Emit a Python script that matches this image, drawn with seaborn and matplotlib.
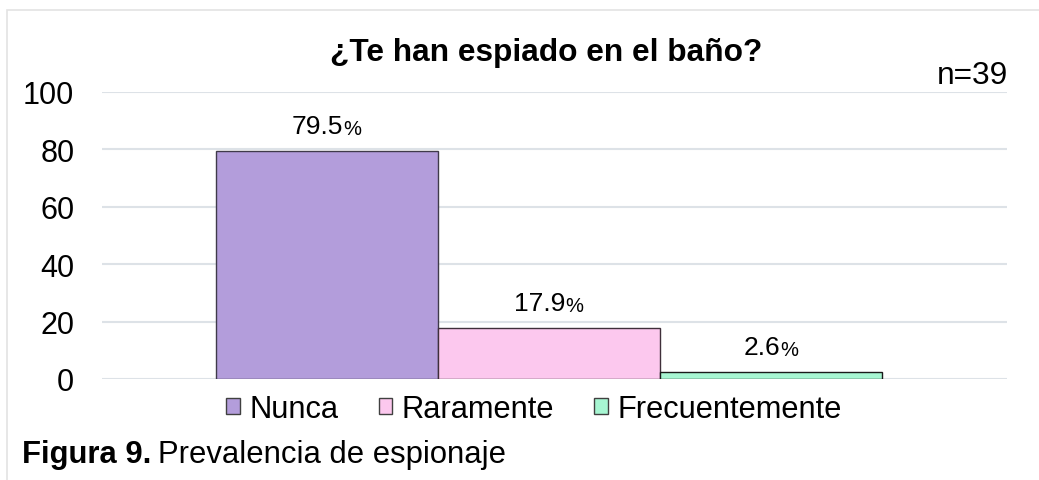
import pandas as pd
import numpy as np
import seaborn as sns
import matplotlib.pyplot as plt
from matplotlib.patches import Rectangle

# data
respuestas = ["Nunca", "Raramente", "Frecuentemente"]
porcentajes = [79.5, 17.9, 2.6]
colores = ["#B39DDB", "#FCC8EE", "#A7F6D2"]
bordes = ["#3F3A4A", "#3F2F3A", "#1A1A1A"]
titulo = "¿Te han espiado en el baño?"
n_texto = "n=39"
yticks = [0, 20, 40, 60, 80, 100]

df = pd.DataFrame({"grupo": ["a"] * 3, "respuesta": respuestas, "valor": porcentajes})

sns.set_theme(style="white")
plt.rcParams["font.family"] = ["Liberation Sans", "DejaVu Sans"]
plt.rcParams["text.color"] = "black"
plt.rcParams["ytick.color"] = "black"

fig = plt.figure(figsize=(10.39, 4.81), dpi=100)
ax = fig.add_axes([0.0982, 0.210, 0.8706, 0.5967])

sns.barplot(data=df, x="grupo", y="valor", hue="respuesta", hue_order=respuestas,
            palette=colores, width=0.737, saturation=1, ax=ax, legend=False)

for p, ec in zip(ax.patches, bordes):
    p.set_edgecolor(ec)
    p.set_linewidth(1.0)

ax.set_xlim(-0.494, 0.506)
ax.set_ylim(0, 100)
ax.set_yticks(yticks)
ax.set_yticklabels([str(t) for t in yticks], fontsize=22, color="black")
ax.tick_params(axis="y", length=0, pad=20)
ax.set_xticks([])
ax.set_xlabel("")
ax.set_ylabel("")
for s in ax.spines.values():
    s.set_visible(False)
ax.yaxis.grid(True, color="#DDE2E7", linewidth=1.5)
ax.set_axisbelow(True)

# value labels: number + smaller percent sign
fig.canvas.draw()
r = fig.canvas.get_renderer()
off = 9
for p, v in zip(ax.patches, porcentajes):
    xc = p.get_x() + p.get_width() / 2
    yt = p.get_height()
    t1 = ax.annotate(f"{v:.1f}", (xc, yt), xytext=(0, off), textcoords="offset points",
                     ha="right", va="bottom", fontsize=19, color="black")
    t2 = ax.annotate("%", (xc, yt), xytext=(0, off), textcoords="offset points",
                     ha="left", va="bottom", fontsize=14.5, color="black")
    w1 = t1.get_window_extent(r).width
    w2 = t2.get_window_extent(r).width
    shift = (w1 - w2) / 2 * 72 / fig.dpi
    t1.set_position((shift, off))
    t2.set_position((shift, off))

# legend
handles = [Rectangle((0, 0), 1, 1, facecolor=c, edgecolor="#404040", linewidth=1) for c in colores]
fig.legend(handles, respuestas, loc="center", bbox_to_anchor=(0.514, 0.148), ncol=3,
           frameon=False, fontsize=22.2, handlelength=0.45, handleheight=0.45,
           handletextpad=0.3, columnspacing=1.3, borderpad=0, labelcolor="black")

fig.text(0.526, 0.89, titulo, ha="center", va="center", fontsize=22.8, fontweight="bold")
fig.text(0.970, 0.843, n_texto, ha="right", va="center", fontsize=22.8)

# caption
c1 = fig.text(0.021, 0.054, "Figura 9.", ha="left", va="center", fontsize=22.3, fontweight="bold")
fig.canvas.draw()
wc = c1.get_window_extent(fig.canvas.get_renderer()).width
fig.text(0.021 + (wc + 7) / 1039, 0.054, "Prevalencia de espionaje", ha="left", va="center", fontsize=22.3)

# light frame around the chart
fig.patches.append(Rectangle((7 / 1039, -0.01), 1.0, 1 - 11 / 481 + 0.01, transform=fig.transFigure,
                             fill=False, edgecolor="#E3E3E3", linewidth=1.2))

fig.savefig("out.png", dpi=100)
